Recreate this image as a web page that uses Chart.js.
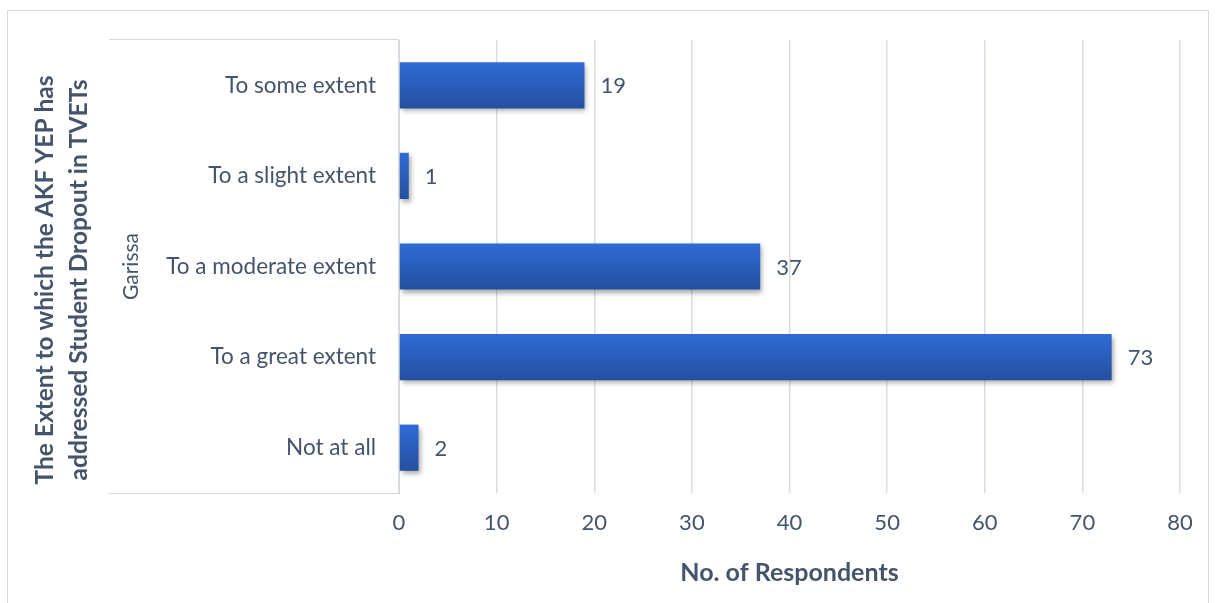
<!DOCTYPE html>
<html>
<head>
<meta charset="utf-8">
<script src="https://cdn.jsdelivr.net/npm/chart.js@4.4.0/dist/chart.umd.min.js"></script>
<style>
	html, body { margin: 0; padding: 0; background: #fff; }
	#wrap { width: 1217px; height: 603px; position: relative; }
</style>
</head>
<body>
<div id="wrap"><canvas id="extent-chart"></canvas></div>
<script>
const CATEGORIES = [
	'To some extent',
	'To a slight extent',
	'To a moderate extent',
	'To a great extent',
	'Not at all',
];
const RESPONDENTS = [19, 1, 37, 73, 2];
const GROUP = 'Garissa';
const X_TICKS = { min: 0, max: 80, step: 10 };
const Y_TITLE = ['The Extent to which the AKF YEP has', 'addressed Student Dropout in TVETs'];
const X_TITLE = 'No. of Respondents';

const COLORS = {
	text: '#44546A',
	grid: '#D9DDE3',
	frame: '#D9D9D9',
	bar_top: '#2F6BD6',
	bar_bottom: '#24509F',
};
const FONT = 'Lato, "Open Sans", sans-serif';

const ctx = document.getElementById('extent-chart').getContext('2d');

// gradient per bar, top to bottom
function barFill(c) {
	const chart = c.chart;
	const y = chart.scales.y;
	if (!chart.chartArea || !y || c.dataIndex === undefined) return COLORS.bar_top;
	const yc = y.getPixelForValue(c.dataIndex);
	const half = 23;
	const g = chart.ctx.createLinearGradient(0, yc - half, 0, yc + half);
	g.addColorStop(0, COLORS.bar_top);
	g.addColorStop(1, COLORS.bar_bottom);
	return g;
}

const decor = {
	id: 'decor',
	beforeDraw(chart) {
		const c = chart.ctx;
		c.save();
		c.strokeStyle = COLORS.frame;
		c.lineWidth = 1;
		c.strokeRect(7.5, 10.5, 1201, 620);
		// group box round the category labels
		const a = chart.chartArea;
		c.beginPath();
		c.moveTo(109, a.top - 0.5);
		c.lineTo(a.left, a.top - 0.5);
		c.moveTo(109, a.bottom + 0.5);
		c.lineTo(a.left, a.bottom + 0.5);
		c.stroke();
		c.fillStyle = COLORS.text;
		c.textAlign = 'center';
		// group label
		c.save();
		c.translate(131, (a.top + a.bottom) / 2);
		c.rotate(-Math.PI / 2);
		c.font = '21px ' + FONT;
		c.textBaseline = 'middle';
		c.fillText(GROUP, 0, 0);
		c.restore();
		// axis title, two lines rotated
		c.translate(0, 280);
		c.rotate(-Math.PI / 2);
		c.font = 'bold 24.5px ' + FONT;
		c.textBaseline = 'alphabetic';
		c.fillText(Y_TITLE[0], 0, 53);
		c.fillText(Y_TITLE[1], 0, 87);
		c.restore();
	},
	beforeDatasetDraw(chart) {
		const c = chart.ctx;
		c.save();
		c.shadowColor = 'rgba(0,0,0,0.35)';
		c.shadowBlur = 5;
		c.shadowOffsetX = 2;
		c.shadowOffsetY = 3;
	},
	afterDatasetDraw(chart) {
		chart.ctx.restore();
	},
	afterDatasetsDraw(chart) {
		const c = chart.ctx;
		const meta = chart.getDatasetMeta(0);
		c.save();
		c.fillStyle = COLORS.text;
		c.font = '22px ' + FONT;
		c.textAlign = 'left';
		c.textBaseline = 'middle';
		meta.data.forEach((bar, i) => {
			c.fillText(String(RESPONDENTS[i]), bar.x + 16, bar.y + 1);
		});
		c.restore();
	},
};

const data_extent = {
	labels: CATEGORIES,
	datasets: [
		{
			label: GROUP,
			data: RESPONDENTS,
			backgroundColor: barFill,
			borderWidth: 0,
			categoryPercentage: 1,
			barPercentage: 0.51,
		},
	],
};

const config_extent = {
	type: 'bar',
	data: data_extent,
	plugins: [decor],
	options: {
		indexAxis: 'y',
		responsive: true,
		maintainAspectRatio: false,
		animation: false,
		layout: {
			padding: { top: 40, right: 37, bottom: 0, left: 0 },
		},
		plugins: {
			legend: { display: false },
			tooltip: { enabled: false },
		},
		scales: {
			x: {
				min: X_TICKS.min,
				max: X_TICKS.max,
				afterFit(s) { s.height = 110; },
				ticks: {
					stepSize: X_TICKS.step,
					padding: 17,
					color: COLORS.text,
					font: { family: FONT, size: 22 },
				},
				grid: {
					color: COLORS.grid,
					lineWidth: 1.5,
					drawTicks: false,
				},
				border: { display: false },
				title: {
					display: true,
					text: X_TITLE,
					color: COLORS.text,
					font: { family: FONT, size: 25, weight: 'bold' },
					padding: { top: 0, bottom: 15 },
				},
			},
			y: {
				afterFit(s) { s.width = 399; },
				ticks: {
					padding: 23,
					color: COLORS.text,
					font: { family: FONT, size: 22.5 },
				},
				grid: { display: false, drawTicks: false },
				border: { display: true, color: COLORS.frame, width: 1 },
			},
		},
	},
};

new Chart(ctx, config_extent);
</script>
</body>
</html>
